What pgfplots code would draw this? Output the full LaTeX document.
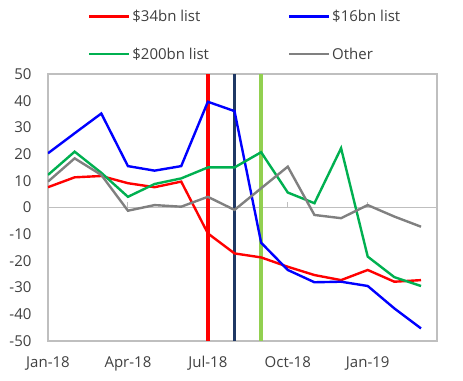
\documentclass[border=0pt]{standalone}
\usepackage{pgfplots}
\pgfplotsset{compat=1.18}
\usepackage{fontspec}
\setmainfont{Open Sans}
\definecolor{cred}{HTML}{FF0000}
\definecolor{cblue}{HTML}{0000FF}
\definecolor{cgreen}{HTML}{00B050}
\definecolor{cgray}{HTML}{808080}
\definecolor{cnavy}{HTML}{1F3864}
\definecolor{clgreen}{HTML}{92D050}
\definecolor{frame}{HTML}{BFBFBF}
\definecolor{txt}{HTML}{404040}
\begin{document}
\begin{tikzpicture}
\begin{axis}[
  scale only axis,
  width=389pt, height=267pt,
  xmin=0, xmax=14.6,
  ymin=-50, ymax=50,
  ytick={-50,-40,...,50},
  xtick={0,3,6,9,12},
  xticklabels={Jan-18,Apr-18,Jul-18,Oct-18,Jan-19},
  major tick length=0pt,
  axis line style={frame, line width=1.2pt},
  tick label style={font=\fontsize{15}{17}\selectfont, text=txt},
  /pgf/number format/assume math mode=true,
  xticklabel style={yshift=-12pt},
  yticklabel style={xshift=-13pt},
  legend style={at={(0.095,1)}, anchor=south west, yshift=9pt, draw=none,
    font=\fontsize{15}{17}\selectfont, text=txt,
    legend columns=2, row sep=21pt,
    /tikz/column 2/.append style={column sep=77pt}},
  legend cell align=left,
  legend image code/.code={\draw[#1, line width=2.2pt] (0pt,0pt) -- (40pt,0pt);},
]
\draw[frame, line width=1.2pt] (axis cs:0,0) -- (axis cs:14.6,0);
\pgfplotsinvokeforeach{3,6,9,12}{\draw[frame, line width=1pt] (axis cs:#1,0) -- ([yshift=5pt]axis cs:#1,0);}
\addplot[cred, line width=4.3pt, forget plot] coordinates {(6,-50) (6,50)};
\addplot[cnavy, line width=3.2pt, forget plot] coordinates {(7,-50) (7,50)};
\addplot[clgreen, line width=4.6pt, forget plot] coordinates {(8,-50) (8,50)};
\addplot[cred, line width=2.4pt] coordinates {
(0,7.6) (1,11.3) (2,11.8) (3,9.1) (4,7.6) (5,9.7) (6,-9.7) (7,-17.2) (8,-18.7) (9,-22.2) (10,-25.3) (11,-27.2) (12,-23.4) (13,-27.8) (14,-27.2)};
\addlegendentry{\$34bn list}
\addplot[cblue, line width=2.4pt] coordinates {
(0,20.3) (1,27.8) (2,35.2) (3,15.5) (4,13.8) (5,15.5) (6,39.6) (7,36.1) (8,-13.2) (9,-23.4) (10,-28.0) (11,-27.8) (12,-29.4) (13,-37.8) (14,-45.3)};
\addlegendentry{\$16bn list}
\addplot[cgreen, line width=2.4pt] coordinates {
(0,12.2) (1,20.9) (2,13.0) (3,4.0) (4,8.8) (5,10.9) (6,15.0) (7,15.0) (8,20.7) (9,5.6) (10,1.6) (11,22.2) (12,-18.4) (13,-26.1) (14,-29.4)};
\addlegendentry{\$200bn list}
\addplot[cgray, line width=2.4pt] coordinates {
(0,9.7) (1,18.4) (2,12.2) (3,-1.2) (4,0.9) (5,0.3) (6,4.0) (7,-0.9) (8,7.2) (9,15.3) (10,-2.8) (11,-4.0) (12,0.9) (13,-3.4) (14,-7.2)};
\addlegendentry{Other}
\coordinate (bl) at (rel axis cs:0,0);
\coordinate (tr) at (rel axis cs:1,1);
\end{axis}
\path ([shift={(-48pt,-40pt)}]bl) rectangle ([shift={(26pt,74pt)}]tr);
\end{tikzpicture}
\end{document}
